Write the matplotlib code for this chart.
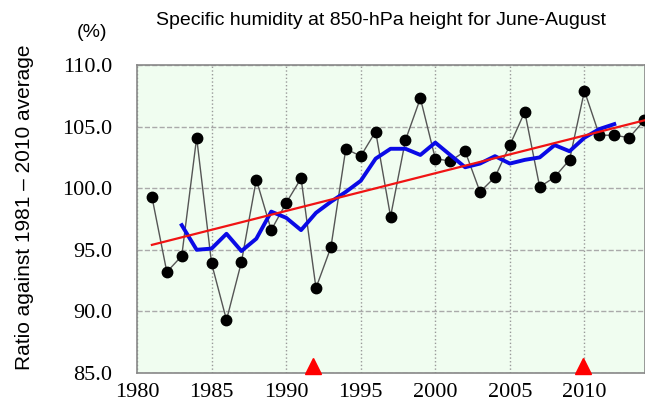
import numpy as np
import matplotlib.pyplot as plt

# yearly ratio against the 1981-2010 average (%)
years = list(range(1981, 2015))
ratio = [99.3, 93.2, 94.5, 104.1, 93.9, 89.3, 94.0, 100.7, 96.6, 98.8,
         100.8, 91.9, 95.2, 103.2, 102.6, 104.6, 97.7, 103.9, 107.3, 102.4,
         102.2, 103.0, 99.7, 100.9, 103.5, 106.2, 100.1, 100.9, 102.3, 107.9,
         104.3, 104.3, 104.1, 105.5]

# 5-year running mean
run_years = list(range(1983, 2013))
run_mean = [97.0, 95.0, 95.1, 96.3, 94.9, 95.9, 98.1, 97.6, 96.6, 98.0,
            98.9, 99.7, 100.6, 102.4, 103.2, 103.2, 102.7, 103.7, 102.7, 101.7,
            102.0, 102.6, 102.0, 102.3, 102.5, 103.5, 103.0, 104.1, 104.8, 105.2]

# long-term linear trend end points
trend_years = [1981, 2014]
trend_vals = [95.4, 105.5]

# major volcanic eruptions
volcano_years = [1991.8, 2009.9]

sans = 'Liberation Sans'

fig = plt.figure(figsize=(6.45, 4.07), dpi=100)
ax = fig.add_axes([0.2124, 0.0835, 0.7876, 0.7568])
ax.set_facecolor('#f0fdf0')

ax.plot(years, ratio, color='#555555', lw=1.0, marker='o', markersize=7.5,
        markerfacecolor='black', markeredgecolor='black', zorder=3, clip_on=False)
ax.plot(run_years, run_mean, color='#0a0ae6', lw=2.8, zorder=4)
ax.plot(trend_years, trend_vals, color='#f01414', lw=1.6, zorder=5)
ax.plot(volcano_years, [85.6] * len(volcano_years), linestyle='none', marker='^',
        markersize=12, color='red', zorder=6, clip_on=False)

ax.set_xlim(1980, 2014.06)
ax.set_ylim(85, 110)
ax.set_xticks(np.arange(1980, 2011, 5))
ax.set_yticks(np.arange(85, 111, 5))
ax.set_yticklabels(["%.1f" % v for v in np.arange(85, 111, 5)])
ax.xaxis.grid(True, linestyle=':', color='#999999', lw=1.0)
ax.yaxis.grid(True, linestyle='--', color='#aaaaaa', lw=1.0)
ax.set_axisbelow(True)
ax.tick_params(length=0, labelsize=16)
ax.tick_params(axis='x', pad=7)
ax.tick_params(axis='y', pad=18)
for lab in ax.get_xticklabels() + ax.get_yticklabels():
    lab.set_family('Liberation Serif')
for s in ax.spines.values():
    s.set_color('#888888')
    s.set_linewidth(1.2)

fig.text(25 / 645, 1 - 207 / 407, "Ratio against 1981 \u2013 2010 average", family=sans,
         fontsize=15, rotation=90, ha='center', va='center')
fig.text(0.59, 0.95, "Specific humidity at 850-hPa height for June-August",
         family=sans, fontsize=14, ha='center', va='center')
fig.text(0.143, 0.92, "(%)", family=sans, fontsize=14, ha='center', va='center')

plt.savefig("out.png", dpi=100)
